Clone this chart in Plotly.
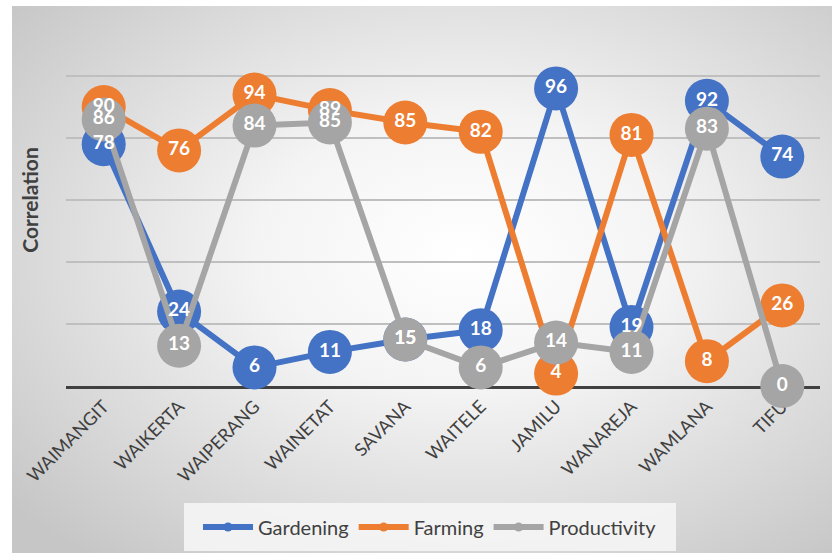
import base64
import plotly.graph_objects as go

# Survey sites and the three correlation series
sites = ["WAIMANGIT", "WAIKERTA", "WAIPERANG", "WAINETAT", "SAVANA",
         "WAITELE", "JAMILU", "WANAREJA", "WAMLANA", "TIFU"]
gardening = [78, 24, 6, 11, 15, 18, 96, 19, 92, 74]
farming = [90, 76, 94, 89, 85, 82, 4, 81, 8, 26]
productivity = [86, 13, 84, 85, 15, 6, 14, 11, 83, 0]

series = [
    ("Gardening", gardening, "#4472C4"),
    ("Farming", farming, "#ED7D31"),
    ("Productivity", productivity, "#A5A5A5"),
]

W, H = 832, 553
ML, MR, MT, MB = 66, 12, 14, 167
PW, PH = W - ML - MR, H - MT - MB


def px_to_paper_x(px):
    return (px - ML) / PW


def px_to_paper_y(py):
    return (H - MB - py) / PH


# Radial grey-to-white chart background as an SVG image
svg = (
    '<svg xmlns="http://www.w3.org/2000/svg" width="820" height="547" '
    'viewBox="0 0 820 547" preserveAspectRatio="none">'
    '<defs><radialGradient id="g" cx="0.55" cy="0.45" r="0.72">'
    '<stop offset="0" stop-color="#ffffff"/>'
    '<stop offset="0.35" stop-color="#f4f4f4"/>'
    '<stop offset="1" stop-color="#c6c6c6"/>'
    '</radialGradient></defs>'
    '<rect x="0" y="0" width="820" height="547" fill="url(#g)"/>'
    '</svg>'
)
bg_src = "data:image/svg+xml;base64," + base64.b64encode(svg.encode()).decode()

fig = go.Figure()

# Lines with circular markers
for name, vals, color in series:
    fig.add_trace(go.Scatter(
        x=sites, y=vals, mode="lines+markers", name=name,
        line=dict(color=color, width=6),
        marker=dict(size=44, color=color, line=dict(width=0)),
        showlegend=False, hoverinfo="skip", cliponaxis=False,
    ))

# Value labels drawn above every marker
for name, vals, color in series:
    fig.add_trace(go.Scatter(
        x=sites, y=vals, mode="text", text=[str(v) for v in vals],
        textposition="middle center",
        textfont=dict(family="Lato", size=19, color="white", weight="bold"),
        showlegend=False, hoverinfo="skip", cliponaxis=False,
    ))

# Legend entries with small markers
for name, vals, color in series:
    fig.add_trace(go.Scatter(
        x=[None], y=[None], mode="lines+markers", name=name,
        line=dict(color=color, width=6),
        marker=dict(size=9, color=color),
    ))

fig.update_layout(
    width=W, height=H,
    margin=dict(l=ML, r=MR, t=MT, b=MB, autoexpand=False),
    paper_bgcolor="white",
    plot_bgcolor="rgba(0,0,0,0)",
    font=dict(family="Lato", color="#404040"),
    showlegend=True,
    legend=dict(
        orientation="h", x=px_to_paper_x(430), xanchor="center",
        y=px_to_paper_y(527), yanchor="middle",
        bgcolor="rgba(0,0,0,0)", font=dict(size=20, color="#404040"),
        itemwidth=50, tracegroupgap=0,
    ),
    images=[dict(
        source=bg_src, xref="paper", yref="paper",
        x=px_to_paper_x(12), y=px_to_paper_y(6),
        sizex=px_to_paper_x(832) - px_to_paper_x(12),
        sizey=px_to_paper_y(6) - px_to_paper_y(553),
        xanchor="left", yanchor="top", sizing="stretch", layer="below",
    )],
    shapes=[dict(
        type="rect", xref="paper", yref="paper", layer="below",
        x0=px_to_paper_x(184), x1=px_to_paper_x(676),
        y0=px_to_paper_y(551), y1=px_to_paper_y(503),
        fillcolor="rgba(245,245,245,0.9)", line=dict(width=0),
    )],
)

fig.update_xaxes(
    type="category", range=[-0.5, len(sites) - 0.5],
    showgrid=False, showline=True, linecolor="#404040", linewidth=3,
    ticks="", tickangle=-45, tickfont=dict(size=18, color="#404040"),
    zeroline=False, layer="below traces",
)
fig.update_yaxes(
    range=[0, 120], dtick=20, showticklabels=False,
    showgrid=True, gridcolor="#bfbfbf", gridwidth=1.5,
    zeroline=False, showline=False, layer="below traces",
    title=dict(text="<b>Correlation</b>", font=dict(size=21, color="#404040"),
               standoff=20),
)

fig.write_html("out.html")
